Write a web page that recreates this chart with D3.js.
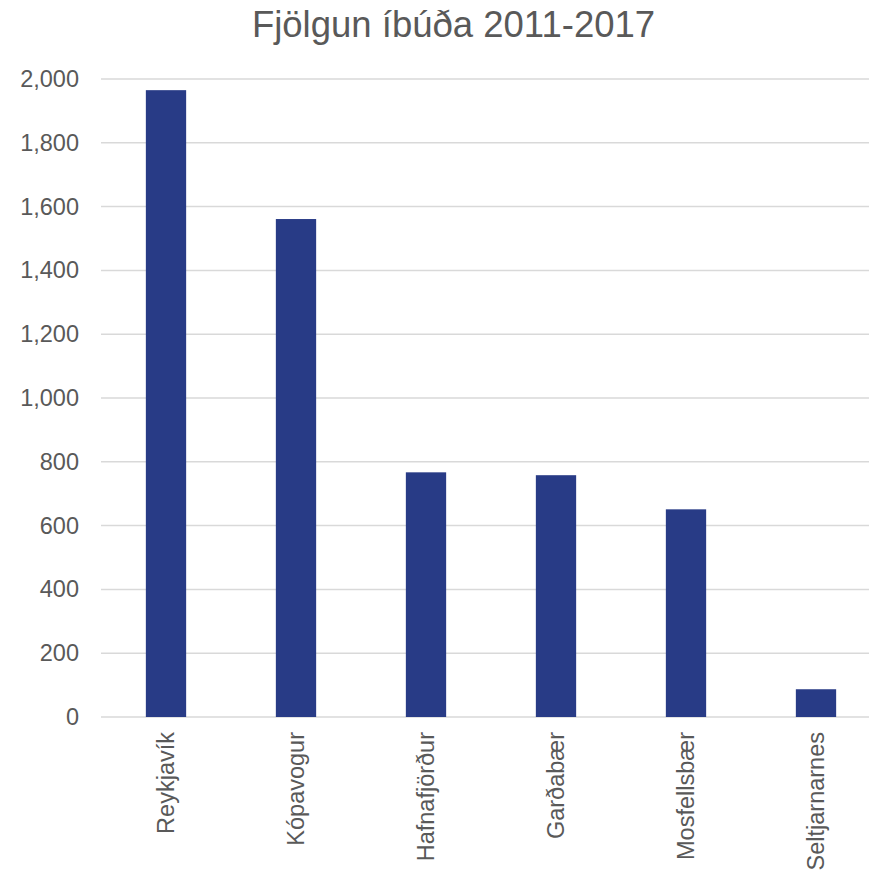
<!DOCTYPE html>
<html>
<head>
<meta charset="utf-8">
<script src="https://cdn.jsdelivr.net/npm/d3@7"></script>
<style>
  html, body { margin: 0; padding: 0; background: #fff; }
  svg { display: block; font-family: "Liberation Sans", Arial, sans-serif; }
</style>
</head>
<body>
<svg id="chart" width="869" height="872"></svg>
<script>
const categories = ['Reykjavík', 'Kópavogur', 'Hafnafjörður', 'Garðabær', 'Mosfellsbær', 'Seltjarnarnes'];
const values = [1965, 1561, 767, 758, 651, 87];
const yTicks = [0, 200, 400, 600, 800, 1000, 1200, 1400, 1600, 1800, 2000];
const title = 'Fjölgun íbúða 2011-2017';

const TEXT_COLOR = '#595959';
const BAR_COLOR = '#283b86';
const GRID_COLOR = '#d9d9d9';

const svg = d3.select('#chart');
const plot = { left: 101, right: 881, top: 79, bottom: 717 };

const x = d3.scaleBand()
    .domain(categories)
    .range([plot.left, plot.right])
    .paddingInner(0.69)
    .paddingOuter(0.345);

const y = d3.scaleLinear()
    .domain([0, 2000])
    .range([plot.bottom, plot.top]);

svg.append('text')
    .attr('x', 453.5)
    .attr('y', 37)
    .attr('text-anchor', 'middle')
    .attr('font-size', 36.5)
    .attr('fill', TEXT_COLOR)
    .text(title);

// gridlines
svg.append('g')
    .selectAll('line')
    .data(yTicks)
    .join('line')
    .attr('x1', plot.left)
    .attr('x2', plot.right)
    .attr('y1', d => y(d))
    .attr('y2', d => y(d))
    .attr('stroke', GRID_COLOR)
    .attr('stroke-width', 1.5);

// y axis labels
const yAxis = d3.axisLeft(y)
    .tickValues(yTicks)
    .tickFormat(d3.format(','))
    .tickSize(0)
    .tickPadding(22);

svg.append('g')
    .attr('transform', `translate(${plot.left},0)`)
    .call(yAxis)
    .call(g => g.select('.domain').remove())
    .call(g => g.selectAll('text')
        .attr('font-size', 23.5)
        .attr('font-family', '"Liberation Sans", Arial, sans-serif')
        .attr('fill', TEXT_COLOR));

// bars
svg.append('g')
    .selectAll('rect')
    .data(categories)
    .join('rect')
    .attr('x', d => x(d))
    .attr('width', x.bandwidth())
    .attr('y', (d, i) => y(values[i]))
    .attr('height', (d, i) => y(0) - y(values[i]))
    .attr('fill', BAR_COLOR);

// x labels, rotated
svg.append('g')
    .selectAll('text')
    .data(categories)
    .join('text')
    .attr('transform', d => `translate(${x(d) + x.bandwidth() / 2 + 8},732) rotate(-90)`)
    .attr('text-anchor', 'end')
    .attr('font-size', 23.5)
    .attr('fill', TEXT_COLOR)
    .text(d => d);
</script>
</body>
</html>
